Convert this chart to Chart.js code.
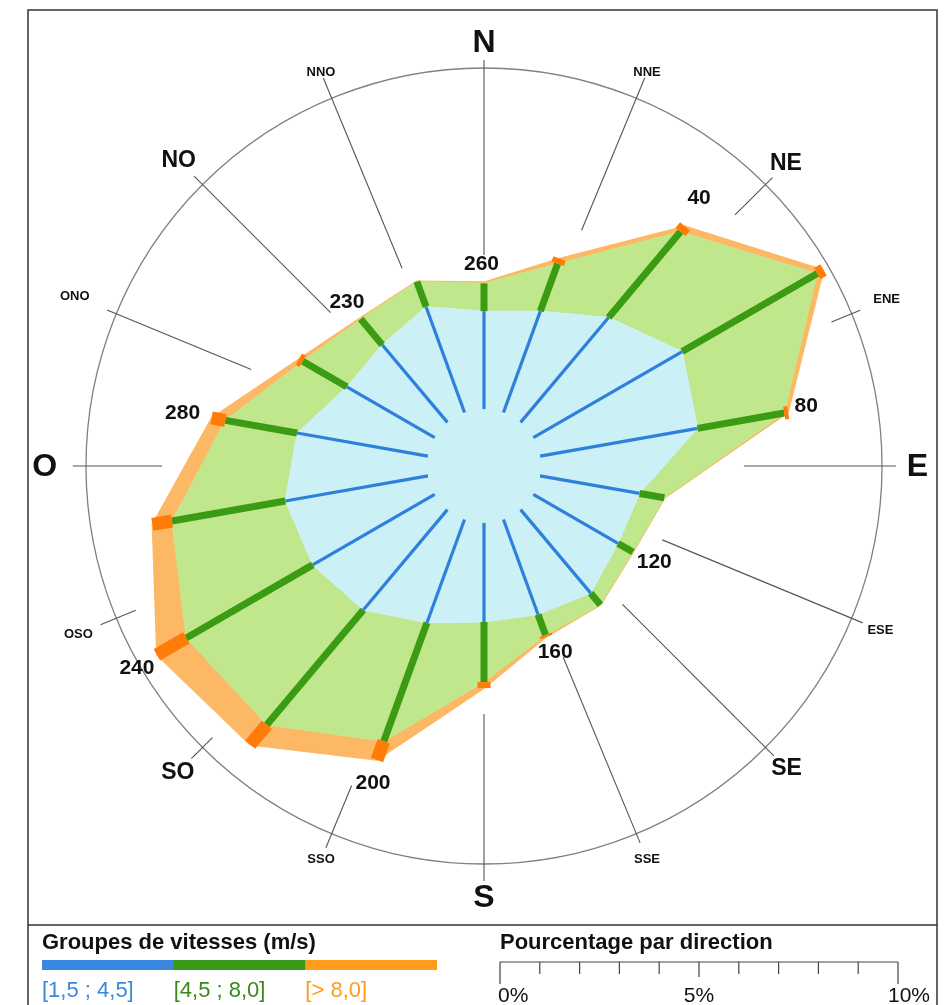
<!DOCTYPE html>
<html>
<head>
<meta charset="utf-8">
<title>Rose des vents</title>
<script src="https://cdn.jsdelivr.net/npm/chart.js@4.4.1/dist/chart.umd.min.js"></script>
<style>
  html, body { margin: 0; padding: 0; background: #ffffff; }
  canvas { display: block; }
</style>
</head>
<body>
<canvas id="rose" width="947" height="1005"></canvas>
<script>
// Wind directions, every 20 degrees clockwise from north
const directions = ['0', '20', '40', '60', '80', '100', '120', '140', '160',
                    '180', '200', '220', '240', '260', '280', '300', '320', '340'];

// Share of observations (%) per direction, for each speed group
const speedLow  = [2.46, 2.71, 3.44, 4.32, 4.02, 2.54, 2.46, 2.74, 2.54,
                   2.49, 2.76, 3.29, 3.54, 3.64, 3.34, 2.55, 2.55, 2.83]; // [1,5 ; 4,5]
const speedMid  = [0.70, 1.27, 2.81, 3.92, 2.21, 0.63, 0.43, 0.38, 0.55,
                   1.51, 3.17, 3.77, 3.67, 2.89, 1.83, 1.28, 0.84, 0.67]; // [4,5 ; 8,0]
const speedHigh = [0.03, 0.14, 0.18, 0.18, 0.10, 0.01, 0.01, 0.01, 0.05,
                   0.15, 0.50, 0.65, 0.85, 0.50, 0.35, 0.11, 0.03, 0.01]; // > 8,0

// Direction numbers printed next to the rose (index into directions)
const directionTickIndex = [2, 4, 6, 8, 10, 12, 14, 16, 0];
const directionTickText  = ['40', '80', '120', '160', '200', '240', '280', '230', '260'];

// Compass points, every 22.5 degrees
const compassNames = ['N', 'NNE', 'NE', 'ENE', 'E', 'ESE', 'SE', 'SSE',
                      'S', 'SSO', 'SO', 'OSO', 'O', 'ONO', 'NO', 'NNO'];

// Legend
const speedGroupNames = ['[1,5 ; 4,5]', '[4,5 ; 8,0]', '[> 8,0]'];
const percentScaleMax = 10;
const percentScaleLabels = [[0, '0%'], [5, '5%'], [10, '10%']];

// Inner calm circle, expressed in % of the radial scale
const calmOffset = 1.43;

// ---- styles ----
const COL = {
  lowFill: '#cbf1f6', midFill: '#c1e78c', highFill: '#fdb865',
  lowSpoke: '#2f80dc', midSpoke: '#3b9b13', highSpoke: '#ff7c08',
  lowLegend: '#3a87e0', midLegend: '#3a9a17', highLegend: '#ff9c1c',
  lowText: '#3a87e0', midText: '#3a8a1a', highText: '#ff9c1c',
  ring: '#808080', compass: '#555555', text: '#111111', frame: '#333333'
};
// compass line extents and label radii, as fractions of the ring radius
const compassLineInner = [0.530, 0.641, 0.892, 0.945, 0.653, 0.485, 0.492, 0.520,
                          0.623, 0.869, 0.965, 0.947, 0.809, 0.633, 0.545, 0.538];
const compassLineOuter = [1.020, 1.055, 1.025, 1.023, 1.035, 1.030, 1.030, 1.025,
                          1.043, 1.038, 1.040, 1.043, 1.033, 1.025, 1.030, 1.055];
const compassLabelRadius = [1.065, 1.070, 1.073, 1.095, 1.089, 1.078, 1.075, 1.070,
                            1.083, 1.070, 1.088, 1.103, 1.104, 1.113, 1.085, 1.070];
// offsets (px) of the direction numbers from the outer vertex
const tickTextOffset = [[14, -28], [18, -6], [21, 10], [9, 15], [-4, 23],
                        [-20, 13], [-29, -5], [-13, -16], [-2.5, -18]];

const FONT = '"Liberation Sans", Arial, sans-serif';

// cumulative radii of the three speed bands
const cumLow  = speedLow.slice();
const cumMid  = speedLow.map((v, i) => v + speedMid[i]);
const cumHigh = cumMid.map((v, i) => v + speedHigh[i]);

function polar(cx, cy, deg, r) {
  const a = (deg - 90) * Math.PI / 180;
  return { x: cx + Math.cos(a) * r, y: cy + Math.sin(a) * r };
}

function line(ctx, a, b, width, color, cap) {
  ctx.save();
  ctx.beginPath();
  ctx.moveTo(a.x, a.y);
  ctx.lineTo(b.x, b.y);
  ctx.lineWidth = width;
  ctx.strokeStyle = color;
  ctx.lineCap = cap || 'butt';
  ctx.stroke();
  ctx.restore();
}

const roseDecor = {
  id: 'roseDecor',
  beforeDatasetsDraw(chart) {
    const ctx = chart.ctx;
    const s = chart.scales.r;
    const cx = s.xCenter, cy = s.yCenter, R = s.drawingArea;
    // outer ring
    ctx.save();
    ctx.beginPath();
    ctx.arc(cx, cy, R, 0, Math.PI * 2);
    ctx.lineWidth = 1.3;
    ctx.strokeStyle = COL.ring;
    ctx.stroke();
    ctx.restore();
    // compass lines
    compassNames.forEach((n, k) => {
      const deg = k * 22.5;
      line(ctx, polar(cx, cy, deg, R * compassLineInner[k]),
                polar(cx, cy, deg, R * compassLineOuter[k]), 1.1, COL.compass);
    });
  },
  afterDatasetsDraw(chart) {
    const ctx = chart.ctx;
    const s = chart.scales.r;
    const cx = s.xCenter, cy = s.yCenter, R = s.drawingArea;
    // spokes of each speed band
    directions.forEach((d, i) => {
      const p0 = s.getPointPositionForValue(i, 0);
      const p1 = s.getPointPositionForValue(i, cumLow[i]);
      const p2 = s.getPointPositionForValue(i, cumMid[i]);
      const p3 = s.getPointPositionForValue(i, cumHigh[i]);
      line(ctx, p0, p1, 3.2, COL.lowSpoke);
      line(ctx, p1, p2, 7, COL.midSpoke);
      if (speedHigh[i] >= 0.05) {
        line(ctx, p2, p3, 13, COL.highSpoke);
      }
    });
    // direction numbers
    ctx.save();
    ctx.fillStyle = COL.text;
    ctx.font = 'bold 21px ' + FONT;
    ctx.textAlign = 'center';
    ctx.textBaseline = 'middle';
    directionTickIndex.forEach((i, j) => {
      const p = s.getPointPositionForValue(i, cumHigh[i]);
      ctx.fillText(directionTickText[j], p.x + tickTextOffset[j][0], p.y + tickTextOffset[j][1]);
    });
    // compass names
    compassNames.forEach((n, k) => {
      const size = (k % 4 === 0) ? 32 : (k % 2 === 0 ? 23 : 13);
      ctx.font = 'bold ' + size + 'px ' + FONT;
      const p = polar(cx, cy, k * 22.5, R * compassLabelRadius[k]);
      ctx.fillText(n, p.x, p.y + (k % 4 === 0 ? 1 : 0));
    });
    ctx.restore();
  },
  afterDraw(chart) {
    const ctx = chart.ctx;
    const s = chart.scales.r;
    ctx.save();
    // frame
    ctx.strokeStyle = COL.frame;
    ctx.lineWidth = 1.5;
    ctx.beginPath();
    ctx.moveTo(28, chart.height); ctx.lineTo(28, 10); ctx.lineTo(937, 10); ctx.lineTo(937, chart.height);
    ctx.moveTo(28, 925); ctx.lineTo(937, 925);
    ctx.stroke();

    // speed groups
    ctx.fillStyle = COL.text;
    ctx.textBaseline = 'middle';
    ctx.textAlign = 'left';
    ctx.font = 'bold 22px ' + FONT;
    ctx.fillText('Groupes de vitesses (m/s)', 42, 943);
    const barX = 42, barW = 395, barY = 960, barH = 10;
    const legendCols = [COL.lowLegend, COL.midLegend, COL.highLegend];
    const textCols = [COL.lowText, COL.midText, COL.highText];
    speedGroupNames.forEach((name, g) => {
      const x = barX + g * barW / 3;
      ctx.fillStyle = legendCols[g];
      ctx.fillRect(x, barY, barW / 3 + (g < 2 ? 0.5 : 0), barH);
      ctx.fillStyle = textCols[g];
      ctx.font = '22px ' + FONT;
      ctx.fillText(name, x, 991);
    });

    // percentage scale, sized with the radial scale
    const pxPerPct = s.getDistanceFromCenterForValue(1) - s.getDistanceFromCenterForValue(0);
    const sx = 500, sy = 962;
    ctx.fillStyle = COL.text;
    ctx.font = 'bold 22px ' + FONT;
    ctx.fillText('Pourcentage par direction', sx, 943);
    ctx.strokeStyle = '#444444';
    ctx.lineWidth = 1.2;
    ctx.beginPath();
    ctx.moveTo(sx, sy); ctx.lineTo(sx + percentScaleMax * pxPerPct, sy);
    for (let t = 0; t <= percentScaleMax; t++) {
      const x = sx + t * pxPerPct;
      const len = (t === 0 || t === percentScaleMax) ? 22 : (t === 5 ? 15 : 12);
      ctx.moveTo(x, sy); ctx.lineTo(x, sy + len);
    }
    ctx.stroke();
    ctx.font = '21px ' + FONT;
    ctx.fillStyle = COL.text;
    percentScaleLabels.forEach(([v, txt]) => {
      const x = sx + v * pxPerPct;
      ctx.textAlign = v === 0 ? 'left' : (v === percentScaleMax ? 'right' : 'center');
      ctx.fillText(txt, v === 0 ? x - 2 : (v === percentScaleMax ? x + 32 : x), 996);
    });
    ctx.restore();
  }
};

new Chart(document.getElementById('rose'), {
  type: 'radar',
  data: {
    labels: directions,
    datasets: [
      { label: speedGroupNames[0], data: cumLow, fill: 'start',
        backgroundColor: COL.lowFill, borderColor: COL.lowFill, borderWidth: 1 },
      { label: speedGroupNames[1], data: cumMid, fill: '-1',
        backgroundColor: COL.midFill, borderColor: COL.midFill, borderWidth: 1 },
      { label: speedGroupNames[2], data: cumHigh, fill: '-1',
        backgroundColor: COL.highFill, borderColor: COL.highFill, borderWidth: 1.5 }
    ]
  },
  options: {
    responsive: false,
    animation: false,
    layout: { padding: { left: 86, right: 65, top: 68, bottom: 141 } },
    elements: { point: { radius: 0, hoverRadius: 0 }, line: { tension: 0 } },
    plugins: { legend: { display: false }, tooltip: { enabled: false } },
    scales: {
      r: {
        min: -calmOffset,
        max: percentScaleMax - calmOffset,
        startAngle: 0,
        grid: { display: false },
        angleLines: { display: false },
        ticks: { display: false },
        pointLabels: { display: false }
      }
    }
  },
  plugins: [roseDecor]
});
</script>
</body>
</html>
